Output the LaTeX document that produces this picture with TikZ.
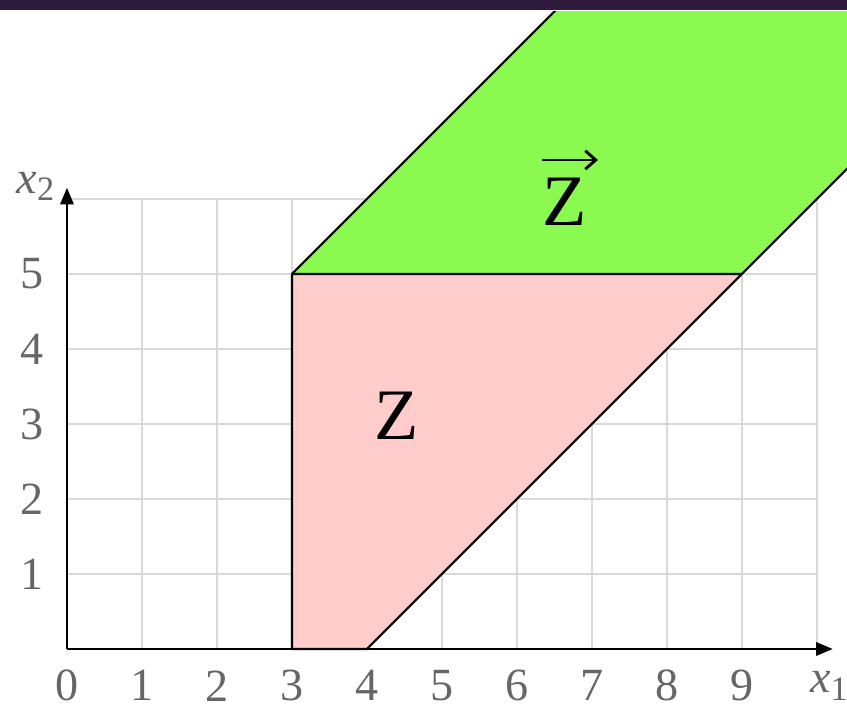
\documentclass[tikz,border=0pt]{standalone}
\usepackage{fontspec}
\setmainfont{LiberationSerif}[Extension=.ttf,UprightFont=*-Regular,ItalicFont=*-Italic,BoldFont=*-Bold]
\usetikzlibrary{arrows.meta}
\definecolor{barpurple}{HTML}{2F1B3E}
\definecolor{zgreen}{HTML}{8BFA50}
\definecolor{zpink}{HTML}{FFCCCC}
\definecolor{gridgray}{HTML}{D9D9D9}
\definecolor{labgray}{HTML}{666666}
\tikzset{
  axis/.style={line width=1pt,-{Triangle[length=6.3pt,width=5pt]}},
  ticklab/.style={text=labgray,font=\fontsize{17.5}{20}\selectfont,inner sep=0pt},
  biglab/.style={font=\fontsize{27.5}{30}\selectfont,inner sep=0pt},
  region/.style={draw=black,line width=0.8pt,line join=round}
}
\begin{document}
\begin{tikzpicture}
\useasboundingbox (-0.893,-0.787) rectangle (10.4,8.653);
\fill[barpurple] (-0.893,8.52) rectangle (10.4,8.653);
% grid
\draw[gridgray,line width=0.75pt] (0,0) grid (10,6);
% green region
\begin{scope}
\clip (-0.893,-0.787) rectangle (10.4,8.50);
\fill[zgreen] (3,5) -- (9,5) -- (13,9) -- (7,9) -- cycle;
\draw[region] (7,9) -- (3,5);
\draw[region] (9,5) -- (13,9);
\end{scope}
% pink region
\filldraw[region,fill=zpink] (3,0) -- (4,0) -- (9,5) -- (3,5) -- cycle;
% axes
\coordinate (o) at (0,0);
\coordinate (xe) at (10.21,0);
\coordinate (ye) at (0,6.15);
\draw[axis] (o) -- (xe);
\draw[axis] (o) -- (ye);
% tick labels
\foreach \i in {0,...,9} \node[ticklab] (tx\i) at (\i,-0.49) {\i};
\foreach \j in {1,...,5} \node[ticklab] (ty\j) at (-0.47,\j) {\j};
\node[ticklab] (x1) at (10.16,-0.49) {\textit{x}\raisebox{-0.35ex}{\fontsize{13}{15}\selectfont 1}};
\node[ticklab] (x2) at (-0.42,6.17) {\textit{x}\raisebox{-0.35ex}{\fontsize{13}{15}\selectfont 2}};
% region labels
\node[biglab] (zl) at (4.4,3.11) {Z};
\node[biglab] (vz) at (6.64,5.96) {Z};
\coordinate (va) at (6.33,6.52);
\coordinate (vb) at (7.08,6.52);
\draw[line width=1.1pt,-{Straight Barb[length=4pt,width=7pt]}] (va) -- (vb);
\end{tikzpicture}
\end{document}
